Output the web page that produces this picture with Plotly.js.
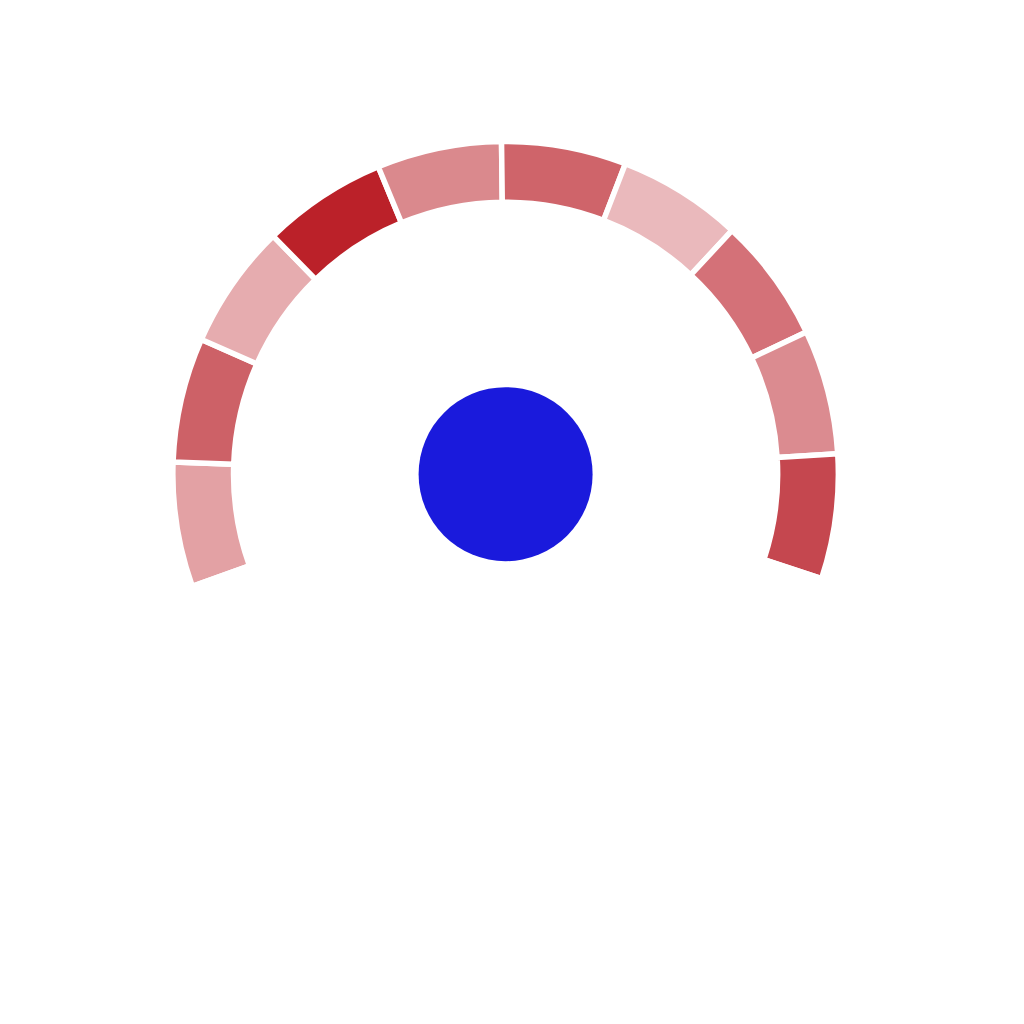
<!DOCTYPE html>
<html>
<head>
<meta charset="utf-8">
<script src="https://cdn.plot.ly/plotly-3.0.1.min.js"></script>
<style>html,body{margin:0;padding:0;background:#fff;}#chart{width:1024px;height:1024px;}</style>
</head>
<body>
<div id="chart"></div>
<script>
// Gauge segments, clockwise from the left end; last entry is the hidden remainder
var segmentLabels = ["s1","s2","s3","s4","s5","s6","s7","s8","s9","s10","rest"];
var segmentValues = [1,1,1,1,1,1,1,1,1,1,6.514];
var segmentColors = ["#e3a1a4","#cd6167","#e6acaf","#bb2129","#da898d","#cf646a",
                     "#eab9bc","#d47178","#db8b90","#c5474f","rgba(255,255,255,0)"];

var cx = 505.6, cy = 474.2, R = 332.75;
var W = 1024, H = 1024;

var trace = {
  type: "pie",
  labels: segmentLabels,
  values: segmentValues,
  sort: false,
  direction: "clockwise",
  rotation: -109.7,
  hole: 0.8176,
  textinfo: "none",
  hoverinfo: "none",
  showlegend: false,
  marker: {colors: segmentColors, line: {color: "#ffffff", width: 5.5}},
  domain: {
    x: [(cx - R) / W, (cx + R) / W],
    y: [(H - cy - R) / H, (H - cy + R) / H]
  }
};

var rc = 87;
var layout = {
  width: W, height: H,
  margin: {l: 0, r: 0, t: 0, b: 0},
  paper_bgcolor: "#ffffff",
  plot_bgcolor: "#ffffff",
  showlegend: false,
  shapes: [{
    type: "circle", xref: "paper", yref: "paper",
    x0: (cx - rc) / W, x1: (cx + rc) / W,
    y0: (H - cy - rc) / H, y1: (H - cy + rc) / H,
    fillcolor: "#1a1adc", line: {width: 0}
  }]
};

Plotly.newPlot("chart", [trace], layout, {displayModeBar: false, staticPlot: true});
</script>
</body>
</html>
